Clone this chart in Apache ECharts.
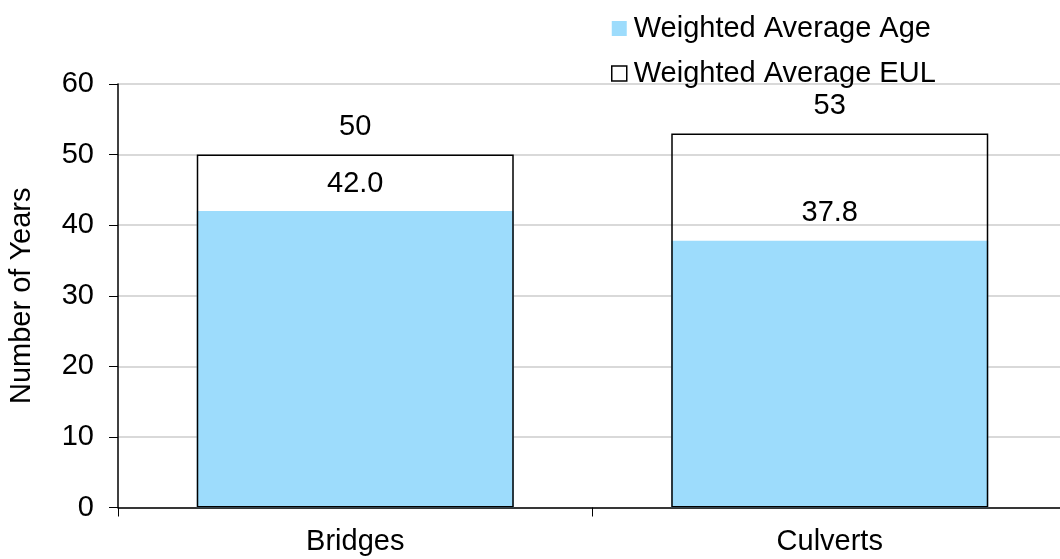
<!DOCTYPE html>
<html>
<head>
<meta charset="utf-8">
<script src="https://cdn.jsdelivr.net/npm/echarts@6/dist/echarts.min.js"></script>
<style>
  html, body { margin: 0; padding: 0; background: #fff; overflow: hidden; }
  #chart { width: 1060px; height: 559px; }
</style>
</head>
<body>
<div id="chart"></div>
<script>
// Asset categories and their weighted averages (years)
const categories = ['Bridges', 'Culverts'];
const avgAge = [42.0, 37.8];
const avgEUL = [50, 53];
const yTicks = [0, 10, 20, 30, 40, 50, 60];

const FONT = "'Liberation Sans', Arial, sans-serif";
const FS = 29;
const AGE_COLOR = '#9DDCFC';

const chart = echarts.init(document.getElementById('chart'));
chart.setOption({
  animation: false,
  backgroundColor: '#fff',
  textStyle: { fontFamily: FONT, color: '#000' },
  // plot area runs slightly past the right edge of the canvas
  grid: { left: 118, top: 84, width: 949, height: 423.5, containLabel: false, outerBoundsMode: 'none' },
  legend: {
    orient: 'vertical',
    left: 606,
    top: 8,
    itemWidth: 15,
    itemHeight: 15,
    itemGap: 14,
    textStyle: { fontFamily: FONT, fontSize: FS, color: '#000', lineHeight: 31, padding: [0, 0, 0, 2] },
    data: [
      { name: 'Weighted Average Age', icon: 'rect', itemStyle: { color: AGE_COLOR, borderWidth: 0 } },
      { name: 'Weighted Average EUL', icon: 'rect', itemStyle: { color: '#fff', borderColor: '#000', borderWidth: 1.5 } }
    ]
  },
  xAxis: {
    type: 'category',
    data: categories,
    axisLine: { show: true, lineStyle: { color: '#000', width: 1.5 } },
    axisTick: { show: true, alignWithLabel: false, length: 9, lineStyle: { color: '#000', width: 1 } },
    axisLabel: { fontFamily: FONT, fontSize: FS, color: '#000', margin: 20 },
    splitLine: { show: false }
  },
  yAxis: {
    type: 'value',
    min: yTicks[0],
    max: yTicks[yTicks.length - 1],
    interval: 10,
    name: 'Number of Years',
    nameLocation: 'middle',
    nameGap: 82,
    nameTextStyle: { fontFamily: FONT, fontSize: FS, color: '#000' },
    axisLine: { show: true, lineStyle: { color: '#000', width: 1.5 } },
    axisTick: { show: true, length: 9, lineStyle: { color: '#000', width: 1 } },
    axisLabel: { fontFamily: FONT, fontSize: FS, color: '#000', margin: 24 },
    splitLine: { show: true, lineStyle: { color: '#D9D9D9', width: 2 } }
  },
  series: [
    {
      name: 'Weighted Average Age',
      type: 'bar',
      data: avgAge,
      barWidth: 317,
      barGap: '-100%',
      itemStyle: { color: AGE_COLOR },
      label: {
        show: true,
        position: 'top',
        distance: 13,
        fontFamily: FONT,
        fontSize: FS,
        color: '#000',
        formatter: p => p.value.toFixed(1)
      },
      z: 2
    },
    {
      name: 'Weighted Average EUL',
      type: 'bar',
      data: avgEUL,
      barWidth: 317,
      barGap: '-100%',
      itemStyle: { color: 'rgba(255,255,255,0)', borderColor: '#000', borderWidth: 1.5 },
      label: {
        show: true,
        position: 'top',
        distance: 13,
        fontFamily: FONT,
        fontSize: FS,
        color: '#000',
        formatter: p => String(p.value)
      },
      z: 3
    }
  ]
});
</script>
</body>
</html>
